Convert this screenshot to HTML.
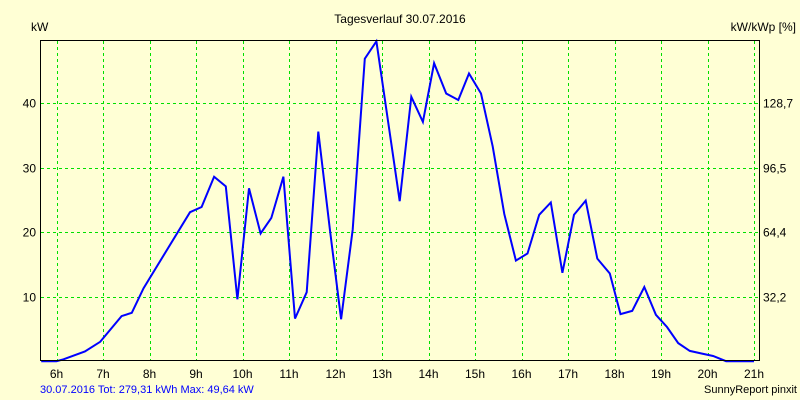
<!DOCTYPE html>
<html><head><meta charset="utf-8">
<style>
html,body{margin:0;padding:0;background:#FFFFD5;}
svg{display:block;font-family:"Liberation Sans",sans-serif;}
</style></head>
<body>
<svg id="chart" width="800" height="400" xmlns="http://www.w3.org/2000/svg">
<rect x="0" y="0" width="800" height="400" fill="#FFFFD5"/>
<text x="400" y="23" font-size="12" text-anchor="middle" fill="#000">Tagesverlauf 30.07.2016</text>
<text x="31" y="31" font-size="12" fill="#000">kW</text>
<text x="796" y="31" font-size="12" text-anchor="end" fill="#000">kW/kWp [%]</text>
<g id="grid"></g>
<g id="series"></g>
<rect x="40.5" y="40.5" width="719" height="320" fill="none" stroke="#000" stroke-width="1"/>
<g id="labels"></g>
<text x="40" y="393" font-size="11" fill="#0000FF">30.07.2016 Tot: 279,31 kWh Max: 49,64 kW</text>
<text x="797" y="393" font-size="11" text-anchor="end" fill="#000">SunnyReport pinxit</text>
</svg>
<script>
const xTickLabels = ["6h","7h","8h","9h","10h","11h","12h","13h","14h","15h","16h","17h","18h","19h","20h","21h"];
const yTicksLeft = [10,20,30,40];
const yTicksRight = ["32,2","64,4","96,5","128,7"];
const times = [5.67,6.0,6.15,6.61,6.94,7.4,7.62,7.87,8.87,9.12,9.39,9.64,9.89,10.14,10.39,10.62,10.88,11.13,11.38,11.63,11.88,12.12,12.37,12.63,12.88,13.38,13.63,13.88,14.12,14.38,14.64,14.87,15.13,15.38,15.63,15.88,16.13,16.38,16.63,16.88,17.13,17.38,17.63,17.9,18.13,18.38,18.64,18.89,19.13,19.37,19.62,19.87,20.12,20.4,21.0];
const values = [0,0,0.3,1.5,3.0,7.0,7.5,11.3,23.1,23.9,28.6,27.1,9.6,26.8,19.8,22.2,28.6,6.6,10.7,35.6,20.4,6.5,20.4,46.9,49.6,24.8,41.0,37.1,46.2,41.5,40.5,44.6,41.5,33.3,22.8,15.6,16.7,22.7,24.6,13.7,22.7,24.9,15.9,13.6,7.3,7.8,11.5,7.2,5.3,2.8,1.6,1.2,0.8,0,0];

const NS="http://www.w3.org/2000/svg";
function xScale(h){return 56.5+(h-6)*46.5;}
function yScale(v){return 361.2-v*6.45;}
const grid=document.getElementById('grid');
const labels=document.getElementById('labels');
function mk(tag,attrs,parent){const e=document.createElementNS(NS,tag);for(const k in attrs)e.setAttribute(k,attrs[k]);parent.appendChild(e);return e;}

xTickLabels.forEach((lab,i)=>{
  const x=Math.round(xScale(6+i))+0.5;
  const l=mk('line',{x1:x,x2:x,y1:41,y2:360,stroke:'#00E000','stroke-width':1,'stroke-dasharray':'3,3'},grid);
  
  
  const t=mk('text',{x:xScale(6+i),y:378,'font-size':12,'text-anchor':'middle',fill:'#000'},labels);
  t.textContent=lab;
  
  
});
yTicksLeft.forEach((v,i)=>{
  const y=Math.round(yScale(v))+0.5;
  const l=mk('line',{x1:41,x2:759,y1:y,y2:y,stroke:'#00E000','stroke-width':1,'stroke-dasharray':'3,3'},grid);
  
  
  const t=mk('text',{x:36,y:y+4,'font-size':12,'text-anchor':'end',fill:'#000'},labels);
  t.textContent=v;
  
  
  const r=mk('text',{x:763,y:y+4,'font-size':12,fill:'#000'},labels);
  r.textContent=yTicksRight[i];
  
  
});
const pts=times.map((t,i)=>xScale(t).toFixed(1)+','+yScale(values[i]).toFixed(1)).join(' ');
const line=mk('polyline',{points:pts,fill:'none',stroke:'#0000FF','stroke-width':2,'stroke-linejoin':'miter'},document.getElementById('series'));


</script>
</body></html>
